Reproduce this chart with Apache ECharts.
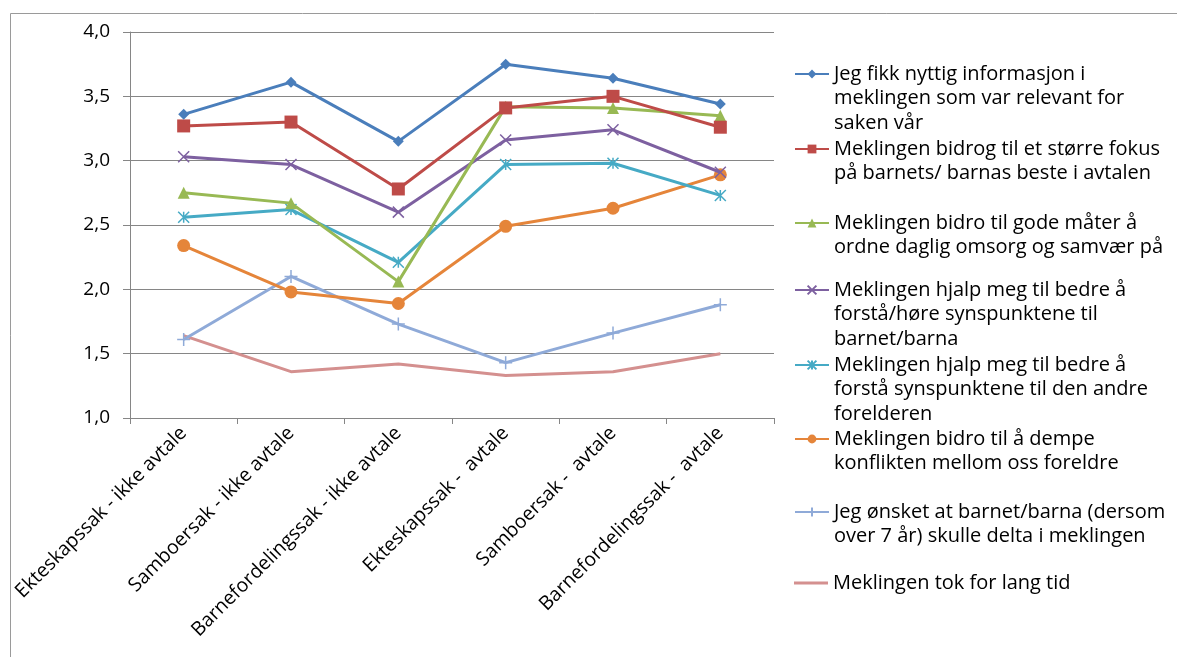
<!DOCTYPE html>
<html>
<head>
<meta charset="utf-8">
<script src="https://cdn.jsdelivr.net/npm/echarts@6/dist/echarts.min.js"></script>
<style>
  html, body { margin: 0; padding: 0; background: #fff; }
  #chart { width: 1177px; height: 657px; }
</style>
</head>
<body>
<div id="chart"></div>
<script>
// kategorier (x-akse)
var categories = ['Ekteskapssak - ikke avtale', 'Samboersak - ikke avtale', 'Barnefordelingssak - ikke avtale',
                  'Ekteskapssak -  avtale', 'Samboersak -  avtale', 'Barnefordelingssak -  avtale'];

// serienavn
var names = [
    'Jeg fikk nyttig informasjon i meklingen som var relevant for saken vår',
    'Meklingen bidrog til et større fokus på barnets/ barnas beste i avtalen',
    'Meklingen bidro til gode måter å ordne daglig omsorg og samvær på',
    'Meklingen hjalp meg til bedre å forstå/høre synspunktene til barnet/barna',
    'Meklingen hjalp meg til bedre å forstå synspunktene til den andre forelderen',
    'Meklingen bidro til å dempe konflikten mellom oss foreldre',
    'Jeg ønsket at barnet/barna (dersom over 7 år) skulle delta i meklingen',
    'Meklingen tok for lang tid'
];

// legend-tekst linje for linje
var legendLines = [
    ['Jeg fikk nyttig informasjon i', 'meklingen som var relevant for', 'saken vår'],
    ['Meklingen bidrog til et større fokus', 'på barnets/ barnas beste i avtalen'],
    ['Meklingen bidro til gode måter å', 'ordne daglig omsorg og samvær på'],
    ['Meklingen hjalp meg til bedre å', 'forstå/høre synspunktene til', 'barnet/barna'],
    ['Meklingen hjalp meg til bedre å', 'forstå synspunktene til den andre', 'forelderen'],
    ['Meklingen bidro til å dempe', 'konflikten mellom oss foreldre'],
    ['Jeg ønsket at barnet/barna (dersom', 'over 7 år) skulle delta i meklingen'],
    ['Meklingen tok for lang tid']
];

// verdier
var informasjon = [3.36, 3.61, 3.15, 3.75, 3.64, 3.44];
var fokusBarn   = [3.27, 3.30, 2.78, 3.41, 3.50, 3.26];
var omsorg      = [2.75, 2.67, 2.06, 3.42, 3.41, 3.35];
var horeBarn    = [3.03, 2.97, 2.60, 3.16, 3.24, 2.91];
var andreForeld = [2.56, 2.62, 2.21, 2.97, 2.98, 2.73];
var dempe       = [2.34, 1.98, 1.89, 2.49, 2.63, 2.89];
var barnDelta   = [1.61, 2.10, 1.73, 1.43, 1.66, 1.88];
var langTid     = [1.64, 1.36, 1.42, 1.33, 1.36, 1.50];

var values = [informasjon, fokusBarn, omsorg, horeBarn, andreForeld, dempe, barnDelta, langTid];

var colors = ['#4A7EBB', '#BE4B48', '#98B954', '#7D60A0', '#46AAC5', '#E5853A', '#8FAAD8', '#D4908F'];
var symbols = ['diamond', 'rect', 'triangle',
    'path://M0,0L10,10M10,0L0,10',
    'path://M0,0L10,10M10,0L0,10M5,0L5,10',
    'circle',
    'path://M5,0L5,10M0,5L10,5',
    'none'];
var symbolSizes = [11, 13, 12, 11, 11, 13, 13, 0];
var strokeOnly = [false, false, false, true, true, false, true, false];

// plassering av legend-ikonene (y i piksler)
var legendIconY = [74, 149, 223, 290, 365, 439, 512, 583];
var lineH = 24.5;
var font = 'Open Sans';

var myChart = echarts.init(document.getElementById('chart'));

var series = [];
var legends = [];
for (var i = 0; i < names.length; i++) {
    series.push({
        name: names[i],
        type: 'line',
        data: values[i],
        symbol: symbols[i],
        symbolSize: symbolSizes[i],
        showAllSymbol: true,
        lineStyle: { color: colors[i], width: 3 },
        itemStyle: strokeOnly[i]
            ? { color: colors[i], borderColor: colors[i], borderWidth: 1.5 }
            : { color: colors[i] },
        emphasis: { disabled: true },
        z: 10 - i
    });
    (function (idx) {
        var n = legendLines[idx].length;
        var noMarker = symbols[idx] === 'none';
        legends.push({
            orient: 'vertical',
            left: 794,
            top: legendIconY[idx] - (n - 0.5) * lineH,
            padding: 0,
            itemWidth: 34,
            itemHeight: noMarker ? 3 : 11,
            selectedMode: false,
            data: [noMarker ? { name: names[idx], icon: 'rect' } : names[idx]],
            formatter: function () {
                var pad = '';
                for (var k = 1; k < n; k++) pad += '\n';
                return pad + legendLines[idx].join('\n');
            },
            textStyle: { fontFamily: font, fontSize: 20, lineHeight: lineH, color: '#000' }
        });
    })(i);
}

var option = {
    backgroundColor: '#fff',
    animation: false,
    graphic: [{
        type: 'rect',
        left: 8, top: 11,
        shape: { width: 1200, height: 700 },
        style: { fill: 'none', stroke: '#9a9a9a', lineWidth: 1 },
        z: -1
    }],
    legend: legends,
    grid: { left: 130, right: 403, top: 32, bottom: 239 },
    xAxis: {
        type: 'category',
        data: categories,
        boundaryGap: true,
        axisLine: { lineStyle: { color: '#868686', width: 1 } },
        axisTick: { show: true, length: 6, lineStyle: { color: '#868686' } },
        axisLabel: {
            interval: 0,
            rotate: 45,
            margin: 12,
            fontFamily: font,
            fontSize: 19.5,
            color: '#000'
        }
    },
    yAxis: {
        type: 'value',
        min: 1,
        max: 4,
        interval: 0.5,
        axisLine: { show: true, lineStyle: { color: '#868686', width: 1 } },
        axisTick: { show: true, length: 7, lineStyle: { color: '#868686' } },
        splitLine: { lineStyle: { color: '#868686', width: 1 } },
        axisLabel: {
            margin: 20,
            fontFamily: font,
            fontSize: 19,
            color: '#000',
            formatter: function (v) { return v.toFixed(1).replace('.', ','); }
        }
    },
    series: series
};

myChart.setOption(option);
</script>
</body>
</html>
